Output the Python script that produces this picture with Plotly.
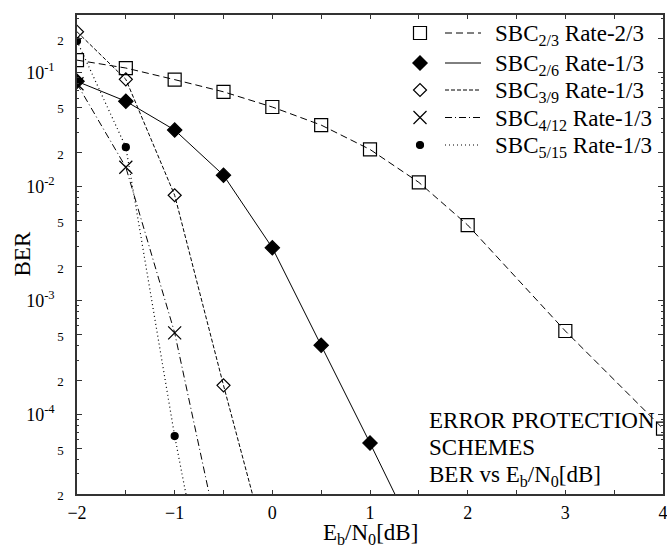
import plotly.graph_objects as go

# Eb/N0 sample points (dB) and measured BER for each scheme
ebn0_2_3 = [-2, -1.5, -1, -0.5, 0, 0.5, 1, 1.5, 2, 3, 4]
ber_2_3 = [0.129, 0.11, 0.087, 0.068, 0.050, 0.0347, 0.0212, 0.0109, 0.0046, 0.00054, 7.5e-5]

ebn0_2_6 = [-2, -1.5, -1, -0.5, 0, 0.5, 1, 1.5]
ber_2_6 = [0.084, 0.0562, 0.0314, 0.0126, 0.0029, 4.05e-4, 5.6e-5, 7.4e-6]

ebn0_3_9 = [-2, -1.5, -1, -0.5, 0]
ber_3_9 = [0.229, 0.0875, 0.0084, 1.8e-4, 4.4e-6]

ebn0_4_12 = [-2, -1.5, -1, -0.5]
ber_4_12 = [0.080, 0.0148, 5.2e-4, 5.2e-6]

ebn0_5_15 = [-2, -1.5, -1, -0.5]
ber_5_15 = [0.19, 0.0222, 6.45e-5, 4e-7]

series_names = [
    "SBC<sub>2/3</sub> Rate-2/3",
    "SBC<sub>2/6</sub> Rate-1/3",
    "SBC<sub>3/9</sub> Rate-1/3",
    "SBC<sub>4/12</sub> Rate-1/3",
    "SBC<sub>5/15</sub> Rate-1/3",
]

note_lines = ["ERROR PROTECTION", "SCHEMES", "BER vs E<sub>b</sub>/N<sub>0</sub>[dB]"]
x_title = "E<sub>b</sub>/N<sub>0</sub>[dB]"
y_title = "BER"

x_tick_vals = [-2, -1, 0, 1, 2, 3, 4]
y_decades = [1e-4, 1e-3, 1e-2, 1e-1]
y_decade_labels = ["10<sup>-4</sup>", "10<sup>-3</sup>", "10<sup>-2</sup>", "10<sup>-1</sup>"]
y_mantissa_vals = [2e-5, 5e-5, 2e-4, 5e-4, 2e-3, 5e-3, 2e-2, 5e-2, 2e-1]
y_mantissa_labels = ["2", "5", "2", "5", "2", "5", "2", "5", "2"]
y_minor_vals = [m * 10.0 ** e for e in range(-5, 0) for m in (3, 4, 6, 7, 8, 9)]

FONT = "Liberation Serif, Times New Roman, serif"
INK = "black"
BIG = 23

styles = [
    dict(symbol="square-open", size=13, dash="7px,4px", lw=1.0),
    dict(symbol="diamond", size=11, dash="solid", lw=1.0),
    dict(symbol="diamond-open", size=10, dash="4px,2px", lw=1.0),
    dict(symbol="x-thin-open", size=13, dash="7px,3px,1px,3px", lw=1.0),
    dict(symbol="circle", size=7, dash="1px,3px", lw=1.2),
]

data = [
    (ebn0_2_3, ber_2_3),
    (ebn0_2_6, ber_2_6),
    (ebn0_3_9, ber_3_9),
    (ebn0_4_12, ber_4_12),
    (ebn0_5_15, ber_5_15),
]

fig = go.Figure()
for (xs, ys), st, name in zip(data, styles, series_names):
    fig.add_trace(go.Scatter(
        x=xs, y=ys, mode="lines+markers", name=name, showlegend=False,
        line=dict(color=INK, width=st["lw"], dash=st["dash"]),
        marker=dict(symbol=st["symbol"], size=st["size"], color=INK,
                    line=dict(color=INK, width=1.2)),
        cliponaxis=True,
    ))

# Hand-built key in the upper-right corner: marker, line sample, label
W, H = 667, 547
L, R, T, B = 77, 4, 15, 53
pw, ph = W - L - R, H - T - B


def px_x(px):
    return (px - L) / pw


def px_y(py):
    return (H - B - py) / ph


key_rows = [33, 63, 90, 117.5, 145]
for row, st, name in zip(key_rows, styles, series_names):
    fig.add_trace(go.Scatter(
        x=[px_x(420)], y=[px_y(row)], xaxis="x2", yaxis="y2", mode="markers",
        showlegend=False, hoverinfo="skip",
        marker=dict(symbol=st["symbol"], size=st["size"], color=INK,
                    line=dict(color=INK, width=1.2)),
    ))
    fig.add_shape(type="line", xref="paper", yref="paper",
                  x0=px_x(445), x1=px_x(481), y0=px_y(row), y1=px_y(row),
                  line=dict(color=INK, width=st["lw"], dash=st["dash"]))
    fig.add_annotation(text=name, xref="paper", yref="paper",
                       x=px_x(493), y=px_y(row + 2), xanchor="left", yanchor="middle",
                       showarrow=False, font=dict(family=FONT, size=BIG, color=INK))

for row, line in zip([420, 447.5, 476], note_lines):
    fig.add_annotation(
        text=line, xref="paper", yref="paper", x=px_x(427), y=px_y(row),
        xanchor="left", yanchor="middle", align="left", showarrow=False,
        font=dict(family=FONT, size=BIG, color=INK),
    )

# Axis titles
fig.add_annotation(text=x_title, xref="paper", yref="paper", x=0.5, y=px_y(534),
                   xanchor="center", yanchor="middle", showarrow=False,
                   font=dict(family=FONT, size=BIG, color=INK))
fig.add_annotation(text=y_title, xref="paper", yref="paper", x=px_x(22), y=0.5,
                   xanchor="center", yanchor="middle", textangle=-90, showarrow=False,
                   font=dict(family=FONT, size=BIG, color=INK))

small = '<span style="font-size:13px">{}</span>'
y_tickvals = y_decades + y_mantissa_vals
y_ticktext = [t + "\u00a0\u00a0" for t in y_decade_labels] + [small.format(t) for t in y_mantissa_labels]

axis_line = dict(showline=True, linecolor="#333333", linewidth=1.5, mirror="ticks",
                 ticks="inside", tickcolor="#333333", showgrid=False, zeroline=False,
                 automargin=False, ticklabeloverflow="allow")

fig.update_layout(
    width=W, height=H,
    margin=dict(l=L, r=R, t=T, b=B, pad=0),
    paper_bgcolor="white", plot_bgcolor="white",
    font=dict(family=FONT, size=16, color=INK),
    xaxis=dict(
        range=[-2, 4], tickvals=x_tick_vals, ticklen=4, tickwidth=1,
        minor=dict(dtick=0.5, tick0=-2, ticks="inside", ticklen=4, tickcolor="#333333"),
        tickfont=dict(size=18), ticklabelstandoff=2,
        **axis_line,
    ),
    yaxis=dict(
        type="log", range=[-4.699, -0.493],
        tickvals=y_tickvals, ticktext=y_ticktext, ticklen=5, tickwidth=1,
        minor=dict(tickvals=y_minor_vals, ticks="inside", ticklen=2.5, tickcolor="#333333"),
        tickfont=dict(size=18), ticklabelstandoff=8,
        **axis_line,
    ),
    xaxis2=dict(overlaying="x", range=[0, 1], visible=False, domain=[0, 1]),
    yaxis2=dict(overlaying="y", range=[0, 1], visible=False),
)

fig.write_html("out.html")
